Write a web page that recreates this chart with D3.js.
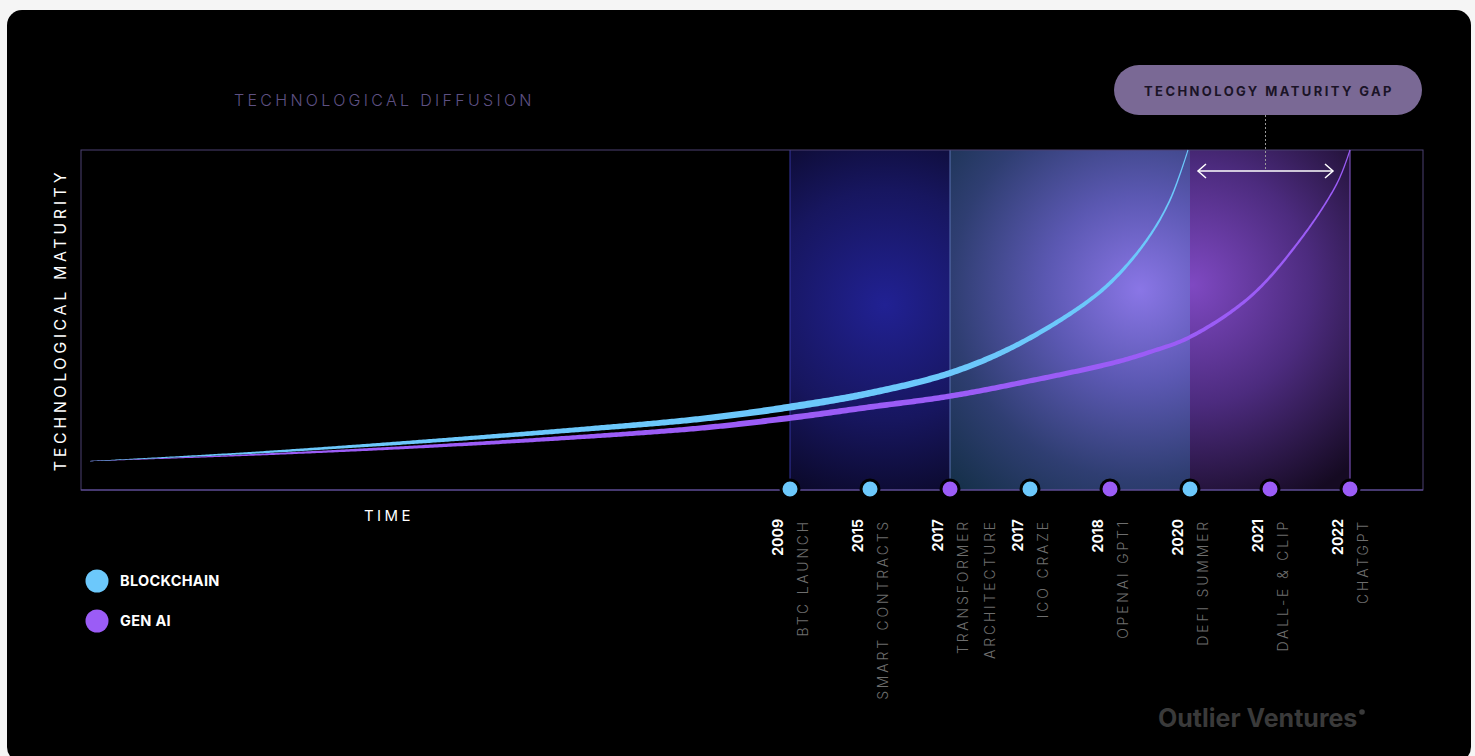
<!DOCTYPE html>
<html>
<head>
<meta charset="utf-8">
<script src="https://cdn.jsdelivr.net/npm/d3@7"></script>
<style>
  html, body { margin: 0; background: #f5f5f5; }
  svg { display: block; font-family: Inter, 'Open Sans', sans-serif; }
</style>
</head>
<body>
<div id="viz"></div>
<script>
'use strict';

// milestones along the time axis (equally spaced, index = position)
const eventYears = ['2009', '2015', '2017', '2017', '2018', '2020', '2021', '2022'];
const eventLabels = [
  ['BTC LAUNCH'],
  ['SMART CONTRACTS'],
  ['TRANSFORMER', 'ARCHITECTURE'],
  ['ICO CRAZE'],
  ['OPENAI GPT1'],
  ['DEFI SUMMER'],
  ['DALL-E & CLIP'],
  ['CHATGPT']
];
const eventSeries = ['blockchain', 'blockchain', 'genai', 'blockchain', 'genai', 'blockchain', 'genai', 'genai'];

// shaded periods, as [fromEvent, toEvent]
const bands = [[0, 2], [2, 5], [5, 7]];

// [time (in event steps), maturity 0-100]
const blockchainCurve = [
  [-8.75, 8.5], [-6.75, 10.9], [-4.875, 13.8], [-3, 17.1], [-1.125, 20.9],
  [0, 24.4], [1, 28.5], [2, 34.4], [2.79, 42.1], [3.625, 53.8],
  [4.04, 61.8], [4.46, 73.5], [4.75, 85.3], [4.975, 100]
];
const genaiCurve = [
  [-8.75, 8.5], [-6.75, 10.3], [-4.875, 12.4], [-3, 15], [-1.125, 18.2],
  [0, 21.2], [1, 24.4], [2, 27.6], [3, 32.1], [4.04, 37.4], [4.5, 40.6],
  [5, 45], [5.75, 56.8], [6.375, 73.5], [6.84, 90.3], [7, 100]
];

const timeDomain = [-8.8625, 7.9125];
const maturityDomain = [0, 100];

const colors = { blockchain: '#6cc8fb', genai: '#9b5cf6' };
const legend = [['blockchain', 'BLOCKCHAIN'], ['genai', 'GEN AI']];

const W = 1475, H = 756;
const plot = { left: 81, right: 1423, top: 150, bottom: 490 };

const svg = d3.select('#viz')
  .append('svg')
    .attr('width', W)
    .attr('height', H);

// black card
svg.append('rect')
  .attr('x', 7).attr('y', 10)
  .attr('width', 1464).attr('height', 752)
  .attr('rx', 15)
  .attr('fill', '#000');

const x = d3.scaleLinear().domain(timeDomain).range([plot.left, plot.right]);
const y = d3.scaleLinear().domain(maturityDomain).range([plot.bottom, plot.top]);

const defs = svg.append('defs');

function radial(id, cx, cy, r, stops) {
  const g = defs.append('radialGradient')
    .attr('id', id)
    .attr('gradientUnits', 'userSpaceOnUse')
    .attr('cx', cx).attr('cy', cy).attr('r', r);
  stops.forEach(([o, c]) => g.append('stop').attr('offset', o).attr('stop-color', c));
}

radial('band0', 885, 305, 210, [[0, '#212193'], [0.55, '#17165f'], [1, '#0a0826']]);
radial('band1', 1140, 290, 270, [[0, '#8a76e6'], [0.35, '#5b58b2'], [0.7, '#2f3e72'], [1, '#153049']]);
radial('band2', 1192, 285, 240, [[0, '#7f49c2'], [0.5, '#4c2b7e'], [1, '#150a22']]);

const bandEdge = ['#3434a2', '#5a72b4', '#8a5ad2'];

bands.forEach(([a, b], i) => {
  svg.append('rect')
    .attr('x', x(a))
    .attr('y', plot.top)
    .attr('width', x(b) - x(a))
    .attr('height', plot.bottom - plot.top)
    .attr('fill', `url(#band${i})`);
});

// band edge lines
[0, 2, 7].forEach((e, i) => {
  svg.append('line')
    .attr('x1', x(e)).attr('x2', x(e))
    .attr('y1', plot.top).attr('y2', plot.bottom)
    .attr('stroke', bandEdge[i]);
});

// plot frame
svg.append('rect')
  .attr('x', plot.left).attr('y', plot.top)
  .attr('width', plot.right - plot.left)
  .attr('height', plot.bottom - plot.top)
  .attr('fill', 'none')
  .attr('stroke', '#4d4173')
  .attr('stroke-width', 1);

svg.append('line')
  .attr('x1', plot.left).attr('x2', plot.right)
  .attr('y1', plot.bottom).attr('y2', plot.bottom)
  .attr('stroke', '#6653a8');

const line = d3.line()
  .x(d => x(d[0]))
  .y(d => y(d[1]))
  .curve(d3.curveCatmullRom.alpha(0.5));

// builds a tapered ribbon following the curve
function ribbon(data, stops) {
  const widthAt = d3.scaleLinear()
    .domain(stops.map(s => s[0]))
    .range(stops.map(s => s[1]))
    .clamp(true);

  const tmp = svg.append('path').attr('d', line(data)).attr('fill', 'none');
  const node = tmp.node();
  const L = node.getTotalLength();
  const x0 = x(data[0][0]);
  const x1 = x(data[data.length - 1][0]);
  const N = 600;
  const pts = d3.range(N + 1).map(i => node.getPointAtLength(L * i / N));
  tmp.remove();

  const upper = [], lower = [];
  pts.forEach((p, i) => {
    const a = pts[Math.max(0, i - 2)];
    const b = pts[Math.min(N, i + 2)];
    const dx = b.x - a.x, dy = b.y - a.y;
    const len = Math.hypot(dx, dy) || 1;
    const nx = -dy / len, ny = dx / len;
    const w = widthAt((p.x - x0) / (x1 - x0)) / 2;
    upper.push([p.x + nx * w, p.y + ny * w]);
    lower.push([p.x - nx * w, p.y - ny * w]);
  });

  return 'M' + upper.concat(lower.reverse()).map(p => p[0].toFixed(2) + ',' + p[1].toFixed(2)).join('L') + 'Z';
}

svg.append('path')
  .attr('d', ribbon(genaiCurve, [[0, 0.3], [0.25, 3], [0.55, 6], [0.8, 5], [0.9, 3.5], [1, 1.2]]))
  .attr('fill', colors.genai);

svg.append('path')
  .attr('d', ribbon(blockchainCurve, [[0, 0.3], [0.28, 3.5], [0.65, 7], [0.8, 6], [0.93, 3.5], [1, 1.1]]))
  .attr('fill', colors.blockchain);

// maturity gap arrow, between where each curve reaches the top
const gapFrom = x(blockchainCurve[blockchainCurve.length - 1][0]) + 10;
const gapTo = x(genaiCurve[genaiCurve.length - 1][0]) - 17;
const gapY = 171;
const gapMid = (gapFrom + gapTo) / 2;

svg.append('line')
  .attr('x1', gapMid).attr('x2', gapMid)
  .attr('y1', 115).attr('y2', gapY - 2)
  .attr('stroke', '#9a9a9a')
  .attr('stroke-dasharray', '2,2');

svg.append('line')
  .attr('x1', gapFrom).attr('x2', gapTo)
  .attr('y1', gapY).attr('y2', gapY)
  .attr('stroke', '#fff')
  .attr('stroke-width', 1.5);

svg.append('path')
  .attr('d', `M${gapFrom + 8},${gapY - 7}L${gapFrom},${gapY}L${gapFrom + 8},${gapY + 7}` +
             `M${gapTo - 8},${gapY - 7}L${gapTo},${gapY}L${gapTo - 8},${gapY + 7}`)
  .attr('fill', 'none')
  .attr('stroke', '#fff')
  .attr('stroke-width', 1.5);

// pill
svg.append('rect')
  .attr('x', 1114).attr('y', 65)
  .attr('width', 308).attr('height', 50)
  .attr('rx', 25)
  .attr('fill', '#7a6995');

svg.append('text')
  .attr('x', 1269).attr('y', 96)
  .attr('text-anchor', 'middle')
  .attr('font-size', 13)
  .attr('font-weight', 700)
  .attr('letter-spacing', 2.4)
  .attr('fill', '#1b1427')
  .text('TECHNOLOGY MATURITY GAP');

// event markers
const markers = svg.append('g');
eventYears.forEach((yr, i) => {
  const cx = x(i);
  markers.append('circle')
    .attr('cx', cx).attr('cy', plot.bottom - 1)
    .attr('r', 9)
    .attr('fill', colors[eventSeries[i]])
    .attr('stroke', '#000')
    .attr('stroke-width', 3);

  markers.append('text')
    .attr('transform', `translate(${cx - 7},519) rotate(-90)`)
    .attr('text-anchor', 'end')
    .attr('font-size', 14)
    .attr('font-weight', 700)
    .attr('fill', '#fff')
    .text(yr);

  eventLabels[i].forEach((lbl, j) => {
    markers.append('text')
      .attr('transform', `translate(${cx + 18 + j * 27},519) rotate(-90)`)
      .attr('text-anchor', 'end')
      .attr('font-size', 14)
      .attr('font-weight', 300)
      .attr('letter-spacing', 2.8)
      .attr('fill', '#6e6e6e')
      .text(lbl);
  });
});

// titles
svg.append('text')
  .attr('x', 234).attr('y', 106)
  .attr('font-size', 16)
  .attr('font-weight', 300)
  .attr('letter-spacing', 3.3)
  .attr('fill', '#5e5183')
  .text('TECHNOLOGICAL DIFFUSION');

svg.append('text')
  .attr('transform', 'translate(66,320) rotate(-90)')
  .attr('text-anchor', 'middle')
  .attr('font-size', 16)
  .attr('font-weight', 400)
  .attr('letter-spacing', 3.6)
  .attr('fill', '#fff')
  .text('TECHNOLOGICAL MATURITY');

svg.append('text')
  .attr('x', 364).attr('y', 521)
  .attr('font-size', 15)
  .attr('font-weight', 400)
  .attr('letter-spacing', 3.4)
  .attr('fill', '#fff')
  .text('TIME');

// legend
legend.forEach(([key, name], i) => {
  svg.append('circle')
    .attr('cx', 97).attr('cy', 581 + i * 40)
    .attr('r', 11.5)
    .attr('fill', colors[key]);
  svg.append('text')
    .attr('x', 120).attr('y', 586 + i * 40)
    .attr('font-size', 14.5)
    .attr('font-weight', 700)
    .attr('letter-spacing', 0.3)
    .attr('fill', '#fff')
    .text(name);
});

// logo
svg.append('text')
  .attr('x', 1158).attr('y', 727)
  .attr('font-size', 25)
  .attr('font-weight', 700)
  .attr('letter-spacing', 0)
  .attr('fill', '#3a3a3a')
  .text('Outlier Ventures');
svg.append('circle')
  .attr('cx', 1362).attr('cy', 712)
  .attr('r', 2.8)
  .attr('fill', '#3a3a3a');
</script>
</body>
</html>
